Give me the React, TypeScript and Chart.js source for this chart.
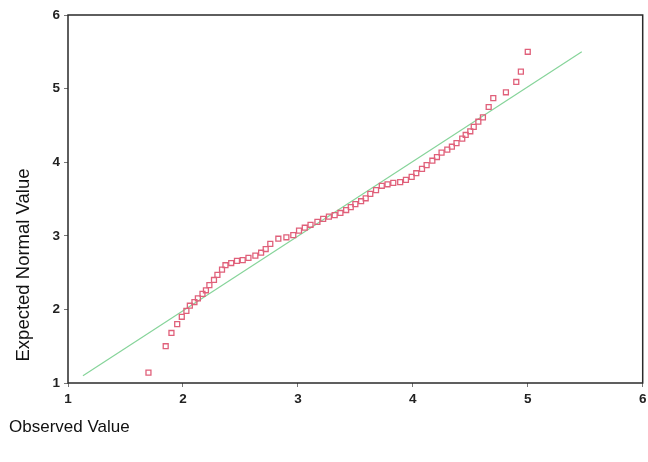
import React, { useEffect, useRef } from "react";
import { Chart, registerables } from "chart.js";

Chart.register(...registerables);

const observedValues = [
  1.70, 1.85, 1.90, 1.95, 1.99, 2.03, 2.06, 2.10, 2.13, 2.17,
  2.20, 2.23, 2.27, 2.30, 2.34, 2.37, 2.42, 2.47, 2.52, 2.57,
  2.63, 2.68, 2.72, 2.76, 2.83, 2.90, 2.96, 3.01, 3.06, 3.11,
  3.17, 3.22, 3.27, 3.32, 3.37, 3.42, 3.46, 3.50, 3.55, 3.59,
  3.63, 3.68, 3.73, 3.78, 3.83, 3.89, 3.94, 3.99, 4.03, 4.08,
  4.12, 4.17, 4.21, 4.25, 4.30, 4.34, 4.38, 4.43, 4.46, 4.50,
  4.53, 4.57, 4.61, 4.66, 4.70, 4.81, 4.90, 4.94, 5.00,
];
const expectedValues = [
  1.14, 1.50, 1.68, 1.80, 1.90, 1.98, 2.05, 2.10, 2.15, 2.21,
  2.26, 2.33, 2.40, 2.47, 2.54, 2.60, 2.63, 2.66, 2.67, 2.70,
  2.73, 2.77, 2.82, 2.89, 2.96, 2.98, 3.01, 3.07, 3.11, 3.15,
  3.19, 3.23, 3.26, 3.28, 3.31, 3.35, 3.39, 3.43, 3.47, 3.51,
  3.57, 3.62, 3.68, 3.70, 3.72, 3.73, 3.76, 3.80, 3.85, 3.91,
  3.96, 4.02, 4.07, 4.13, 4.17, 4.21, 4.26, 4.32, 4.37, 4.42,
  4.48, 4.55, 4.61, 4.75, 4.87, 4.95, 5.09, 5.23, 5.50,
];
const refLineX = [1.13, 5.47];
const refLineY = [1.10, 5.50];
const tickValues = [1, 2, 3, 4, 5, 6];
const xTitle = "Observed Value";
const yTitle = "Expected Normal Value";

const framePlugin = {
  id: "frameAndTitles",
  afterDraw(chart: any) {
    const { ctx, chartArea } = chart;
    ctx.save();
    ctx.strokeStyle = "#2a2a2a";
    ctx.lineWidth = 1.5;
    ctx.strokeRect(chartArea.left, chartArea.top, chartArea.right - chartArea.left, chartArea.bottom - chartArea.top);
    ctx.fillStyle = "#111";
    ctx.textBaseline = "alphabetic";
    ctx.textAlign = "left";
    ctx.font = "17px 'Liberation Sans', Arial, sans-serif";
    ctx.fillText(xTitle, 9, 432);
    ctx.translate(29, 265);
    ctx.rotate(-Math.PI / 2);
    ctx.textAlign = "center";
    ctx.font = "18.5px 'Liberation Sans', Arial, sans-serif";
    ctx.fillText(yTitle, 0, 0);
    ctx.restore();
  },
};

export default function App() {
  const ref = useRef<HTMLCanvasElement | null>(null);
  useEffect(() => {
    document.body.style.margin = "0";
    const points = observedValues.map((x, i) => ({ x, y: expectedValues[i] }));
    const line = refLineX.map((x, i) => ({ x, y: refLineY[i] }));
    const tickFont = { family: "'Liberation Sans', Arial, sans-serif", size: 13.5, weight: "bold" as const };
    const chart = new Chart(ref.current!, {
      type: "scatter",
      data: {
        datasets: [
          {
            data: line,
            showLine: true,
            borderColor: "#86d49a",
            borderWidth: 1.2,
            pointRadius: 0,
            order: 2,
          },
          {
            data: points,
            pointStyle: "rect",
            pointRadius: 3.5,
            borderColor: "#e0607a",
            backgroundColor: "rgba(0,0,0,0)",
            borderWidth: 1.3,
            order: 1,
          },
        ],
      },
      options: {
        animation: false,
        responsive: false,
        layout: { padding: { left: 0, top: 15, right: 5, bottom: 0 } },
        plugins: { legend: { display: false }, tooltip: { enabled: false } },
        scales: {
          x: {
            type: "linear",
            min: 1,
            max: 6,
            afterBuildTicks: (s: any) => { s.ticks = tickValues.map((v) => ({ value: v })); },
            afterFit: (s: any) => { s.height = 79; s.paddingLeft = 0; s.paddingRight = 0; },
            grid: { drawOnChartArea: false, tickLength: 4, color: "#777" },
            border: { display: false },
            ticks: { color: "#222", font: tickFont, padding: 4, maxRotation: 0 },
          },
          y: {
            type: "linear",
            min: 1,
            max: 6,
            afterBuildTicks: (s: any) => { s.ticks = tickValues.map((v) => ({ value: v })); },
            afterFit: (s: any) => { s.width = 68; s.paddingTop = 0; s.paddingBottom = 0; },
            grid: { drawOnChartArea: false, tickLength: 4, color: "#777" },
            border: { display: false },
            ticks: { color: "#222", font: tickFont, padding: 4 },
          },
        },
      },
      plugins: [framePlugin],
    });
    return () => chart.destroy();
  }, []);
  return <canvas ref={ref} width={648} height={462} style={{ display: "block" }} />;
}
